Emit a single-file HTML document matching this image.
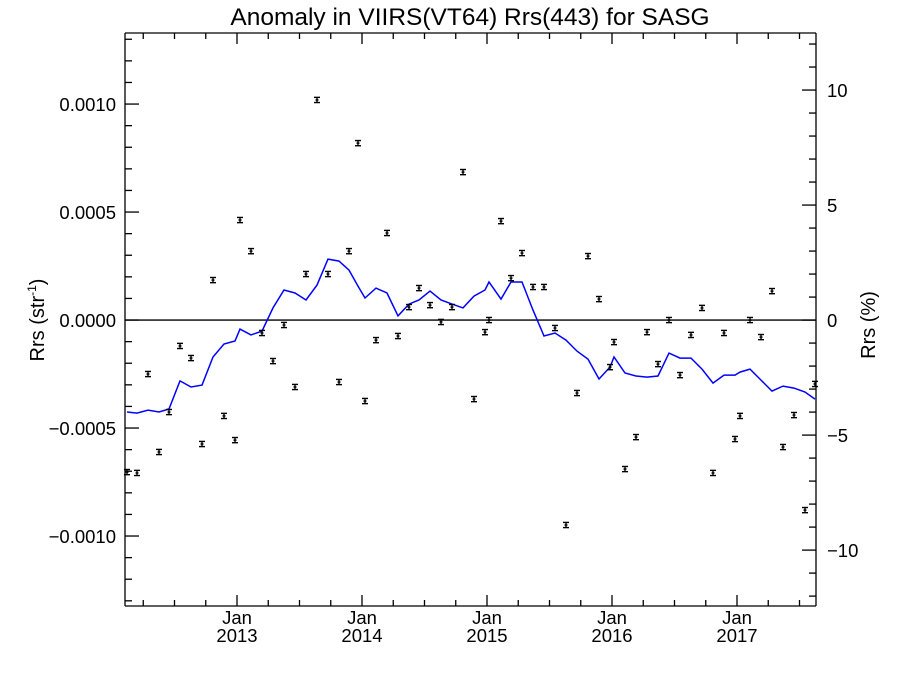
<!DOCTYPE html>
<html><head><meta charset="utf-8"><style>
html,body{margin:0;padding:0;background:#fff;}
svg{display:block;font-family:"Liberation Sans",Arial,sans-serif;}
</style></head><body>
<svg id="chart" width="900" height="675" viewBox="0 0 900 675" xmlns="http://www.w3.org/2000/svg">
<rect width="900" height="675" fill="#fff"/>
<text x="470" y="25" font-size="24.5" text-anchor="middle">Anomaly in VIIRS(VT64) Rrs(443) for SASG</text>
<text transform="translate(44,320) rotate(-90)" font-size="20" text-anchor="middle">Rrs (str<tspan font-size="12" dy="-8">-1</tspan><tspan dy="8">)</tspan></text>
<text transform="translate(875,325) rotate(-90)" font-size="20" text-anchor="middle">Rrs (%)</text>
<g id="marks"></g>
</svg>
<script>
// ---- data ----
const dates = [2012.120,2012.200,2012.288,2012.376,2012.456,2012.544,2012.632,2012.720,2012.808,2012.896,2012.984,
2013.024,2013.112,2013.200,2013.288,2013.376,2013.464,2013.552,2013.640,2013.728,2013.816,2013.896,2013.968,
2014.024,2014.112,2014.200,2014.288,2014.376,2014.456,2014.544,2014.632,2014.720,2014.808,2014.896,2014.984,
2015.016,2015.112,2015.192,2015.280,2015.368,2015.456,2015.544,2015.632,2015.720,2015.808,2015.896,2015.984,
2016.016,2016.104,2016.192,2016.280,2016.368,2016.456,2016.544,2016.632,2016.720,2016.808,2016.896,2016.984,
2017.024,2017.104,2017.192,2017.280,2017.368,2017.456,2017.544,2017.624];
const anomaly = [-7.04,-7.08,-2.50,-6.11,-4.26,-1.20,-1.76,-5.74,1.85,-4.44,-5.56,
4.63,3.19,-0.60,-1.90,-0.23,-3.10,2.13,10.19,2.13,-2.87,3.19,8.19,
-3.75,-0.93,4.03,-0.74,0.60,1.48,0.69,-0.09,0.60,6.85,-3.66,-0.56,
0.00,4.58,1.94,3.10,1.53,1.53,-0.37,-9.49,-3.38,2.96,0.97,-2.18,
-1.02,-6.90,-5.42,-0.56,-2.04,0.00,-2.55,-0.69,0.56,-7.08,-0.60,-5.51,
-4.44,0.00,-0.79,1.34,-5.88,-4.40,-8.80,-2.96]; // units of 1e-4 str^-1
const smoothed = [-4.26,-4.31,-4.17,-4.26,-4.12,-2.82,-3.10,-3.01,-1.71,-1.11,-0.97,
-0.42,-0.69,-0.51,0.56,1.39,1.25,0.93,1.62,2.82,2.73,2.31,1.57,
1.02,1.48,1.25,0.19,0.74,0.93,1.34,0.93,0.74,0.56,1.11,1.39,
1.76,0.97,1.76,1.76,0.46,-0.74,-0.60,-0.93,-1.44,-1.81,-2.73,-2.18,
-1.71,-2.45,-2.59,-2.64,-2.59,-1.53,-1.76,-1.76,-2.27,-2.92,-2.55,-2.55,
-2.41,-2.27,-2.78,-3.29,-3.06,-3.15,-3.33,-3.66];
const errBar = 0.12; // 1e-4 units
const leftTicks = [-0.0010,-0.0005,0.0000,0.0005,0.0010];
const leftTickLabels = ["\u22120.0010","\u22120.0005","0.0000","0.0005","0.0010"];
const rightTicks = [-10,-5,0,5,10];
const rightTickLabels = ["\u221210","\u22125","0","5","10"];
const yearTicks = [2013,2014,2015,2016,2017];
const yearLabels = ["2013","2014","2015","2016","2017"];

// ---- axes ----
const L=125,R=816,T=33,B=606;
const x0=2012.104,x1=2017.632;
const yMax=0.001329,yMin=-0.001324;
const pMax=12.48,pMin=-12.43;
const X=d=>L+(d-x0)/(x1-x0)*(R-L);
const Y=v=>T+(yMax-v)/(yMax-yMin)*(B-T);
const Ya=v=>Y(v*1e-4);
const Yp=p=>T+(pMax-p)/(pMax-pMin)*(B-T);
const NS="http://www.w3.org/2000/svg";
const g=document.getElementById('marks');
function mk(tag,attrs){const e=document.createElementNS(NS,tag);for(const k in attrs)e.setAttribute(k,attrs[k]);g.appendChild(e);return e;}
function line(x1_,y1_,x2_,y2_,name,col,w){const e=mk('line',{x1:x1_,y1:y1_,x2:x2_,y2:y2_,stroke:col||'#000','stroke-width':w||1.3});

return e;}
function txt(x,y,s,anchor,name){const e=mk('text',{x:x,y:y,'font-size':18.5,'text-anchor':anchor});e.textContent=s;

return e;}

line(L,T,L,B,'left-axis-line');
line(R,T,R,B,'right-axis-line');
line(L,B,R,B,'bottom-axis-line');
line(L,T,R,T,'top-axis-line');
for(let k=-13;k<=13;k++){const v=k*0.0001;const yy=Y(v);if(yy<T||yy>B)continue;const major=(k%5===0);
line(L,yy,L+(major?14:7),yy,'left-tick');}
leftTicks.forEach((v,i)=>{txt(L-9,Y(v)+7,leftTickLabels[i],'end','left-tick-label');});
for(let k=-12;k<=12;k++){const yy=Yp(k);const major=(k%5===0);line(R-(major?14:7),yy,R,yy,'right-tick');}
rightTicks.forEach((p,i)=>{txt(R+11,Yp(p)+7,rightTickLabels[i],'start','right-tick-label');});
for(let q=2012.25;q<=x1;q+=0.25){const xx=X(q);const major=Math.abs(q-Math.round(q))<1e-6;const len=major?11:6;
line(xx,B,xx,B-len,'x-tick');line(xx,T,xx,T+len,'x-tick-top');}
yearTicks.forEach((yv,i)=>{const xx=X(yv);txt(xx,624,'Jan','middle','x-month-label');txt(xx,642,yearLabels[i],'middle','x-year-label');});
line(L,Y(0),R,Y(0),'zero-line','#000',1.3);
const pts=dates.map((d,i)=>X(d).toFixed(1)+','+Ya(smoothed[i]).toFixed(1)).join(' ');
const pl=mk('polyline',{points:pts,fill:'none',stroke:'#0000ff','stroke-width':1.5});


dates.forEach((d,i)=>{const xx=X(d),v=anomaly[i];const yt=Ya(v+errBar),yb=Ya(v-errBar);
const grp=document.createElementNS(NS,'g');g.appendChild(grp);


[[xx,yt,xx,yb],[xx-3,yt,xx+3,yt],[xx-3,yb,xx+3,yb],[xx-1.5,Ya(v),xx+1.5,Ya(v)]].forEach(c=>{const e=document.createElementNS(NS,'line');
e.setAttribute('x1',c[0]);e.setAttribute('y1',c[1]);e.setAttribute('x2',c[2]);e.setAttribute('y2',c[3]);
e.setAttribute('stroke','#000');e.setAttribute('stroke-width','1.4');grp.appendChild(e);});});
</script>
</body></html>
